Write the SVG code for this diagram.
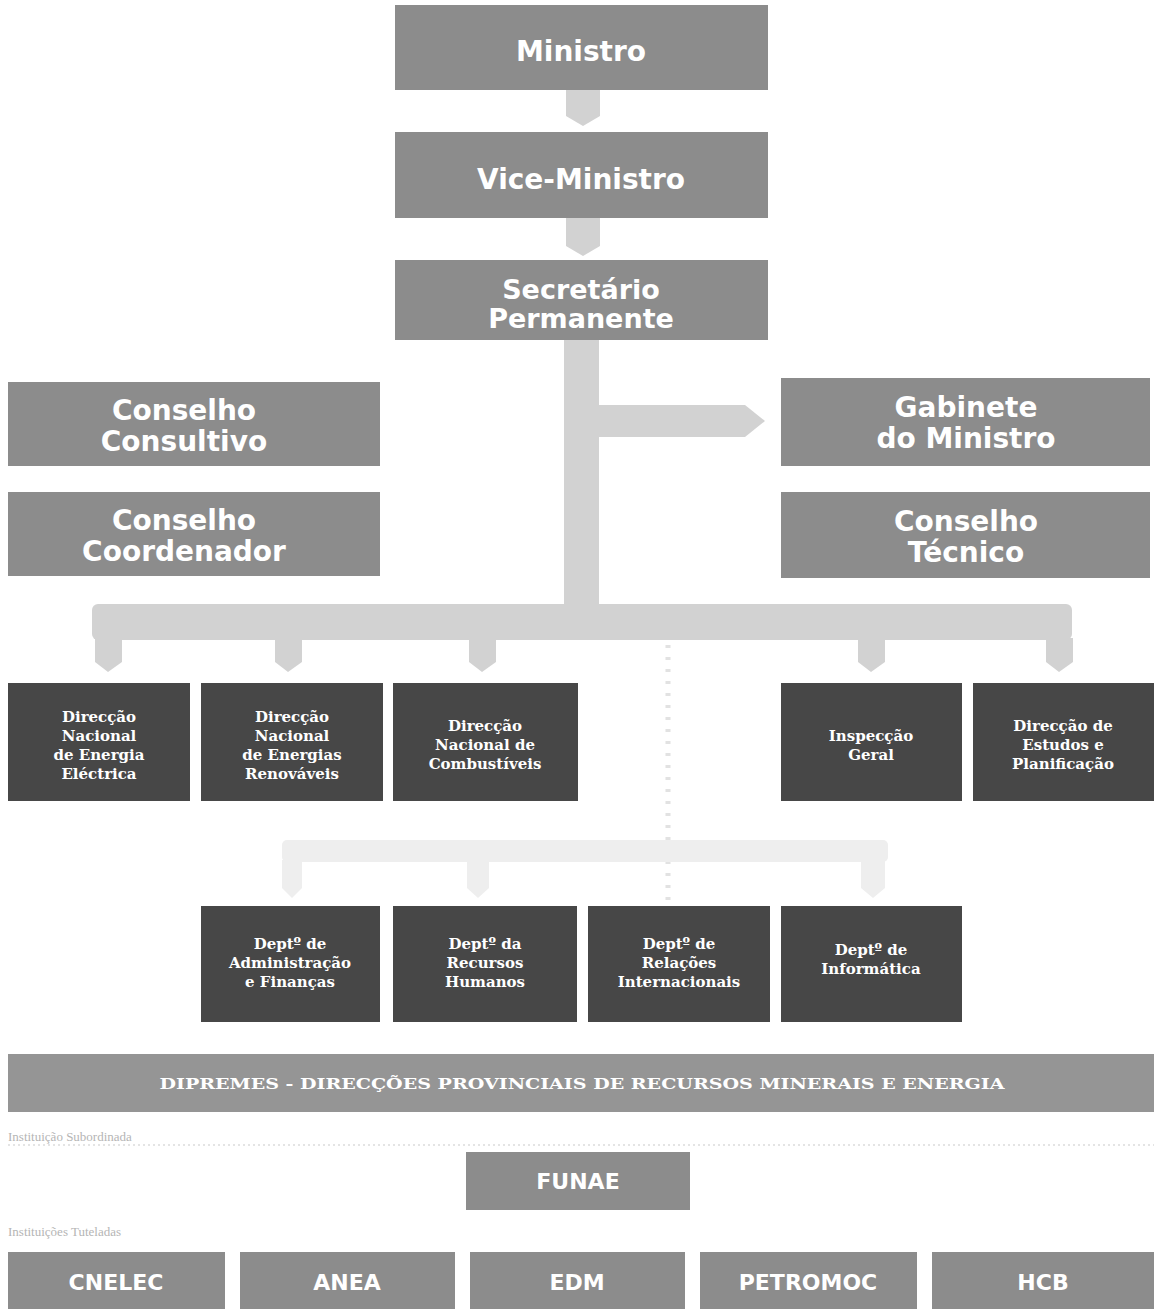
<svg xmlns="http://www.w3.org/2000/svg" width="1154" height="1309" viewBox="0 0 1154 1309">
<style>
.g{fill:#8c8c8c}
.d{fill:#474747}
.bar{fill:#959595}
.c{fill:#d2d2d2}
.cf{fill:#eeeeee}
.t{fill:#fff;font-family:"DejaVu Sans",sans-serif;font-weight:bold;text-anchor:middle}
.s{fill:#fff;font-family:"DejaVu Serif",serif;font-weight:bold;text-anchor:middle;font-size:15px}
.lab{fill:#b5b5b5;font-family:"Liberation Serif",serif;font-size:13px}
</style>
<rect width="1154" height="1309" fill="#fff"/>
<g id="connectors">
<polygon class="c" points="566,90 600,90 600,116 583,126 566,116"/>
<polygon class="c" points="566,218 600,218 600,246 583,256 566,246"/>
<rect class="c" x="564" y="340" width="35" height="270"/>
<polygon class="c" points="599,405 745,405 765,421 745,437 599,437"/>
<rect class="c" x="92" y="604" width="980" height="36" rx="6"/>
<polygon class="c" points="95,638 122,638 122,662 108,672 95,662"/>
<polygon class="c" points="275,638 302,638 302,662 288,672 275,662"/>
<polygon class="c" points="469,638 496,638 496,662 482,672 469,662"/>
<polygon class="c" points="858,638 885,638 885,662 871,672 858,662"/>
<polygon class="c" points="1046,638 1073,638 1073,662 1059,672 1046,662"/>
<line x1="668" y1="645" x2="668" y2="905" stroke="#e2e2e2" stroke-width="5" stroke-dasharray="3 9"/>
<rect class="cf" x="282" y="840" width="606" height="22" rx="5"/>
<polygon class="cf" points="282,860 302,860 302,888 292,898 282,888"/>
<polygon class="cf" points="467,860 489,860 489,888 478,898 467,888"/>
<polygon class="cf" points="861,860 885,860 885,888 873,898 861,888"/>
</g>
<g id="ministro"><rect class="g" x="395" y="5" width="373" height="85"/><text class="t" x="581" y="61" font-size="28">Ministro</text></g>
<g id="vice-ministro"><rect class="g" x="395" y="132" width="373" height="86"/><text class="t" x="581" y="189" font-size="28">Vice-Ministro</text></g>
<g id="secretario"><rect class="g" x="395" y="260" width="373" height="80"/><text class="t" x="581" y="299" font-size="27">Secretário</text><text class="t" x="581" y="328" font-size="27">Permanente</text></g>
<g id="conselho-consultivo"><rect class="g" x="8" y="382" width="372" height="84"/><text class="t" x="184" y="420" font-size="28">Conselho</text><text class="t" x="184" y="451" font-size="28">Consultivo</text></g>
<g id="conselho-coordenador"><rect class="g" x="8" y="492" width="372" height="84"/><text class="t" x="184" y="530" font-size="28">Conselho</text><text class="t" x="184" y="561" font-size="28">Coordenador</text></g>
<g id="gabinete"><rect class="g" x="781" y="378" width="369" height="88"/><text class="t" x="966" y="417" font-size="28">Gabinete</text><text class="t" x="966" y="448" font-size="28">do Ministro</text></g>
<g id="conselho-tecnico"><rect class="g" x="781" y="492" width="369" height="86"/><text class="t" x="966" y="531" font-size="28">Conselho</text><text class="t" x="966" y="562" font-size="28">Técnico</text></g>
<g id="dn-energia-electrica"><rect class="d" x="8" y="683" width="182" height="118"/><text class="s" x="99" y="722">Direcção</text><text class="s" x="99" y="741">Nacional</text><text class="s" x="99" y="760">de Energia</text><text class="s" x="99" y="779">Eléctrica</text></g>
<g id="dn-energias-renovaveis"><rect class="d" x="201" y="683" width="182" height="118"/><text class="s" x="292" y="722">Direcção</text><text class="s" x="292" y="741">Nacional</text><text class="s" x="292" y="760">de Energias</text><text class="s" x="292" y="779">Renováveis</text></g>
<g id="dn-combustiveis"><rect class="d" x="393" y="683" width="185" height="118"/><text class="s" x="485" y="731">Direcção</text><text class="s" x="485" y="750">Nacional de</text><text class="s" x="485" y="769">Combustíveis</text></g>
<g id="inspeccao-geral"><rect class="d" x="781" y="683" width="181" height="118"/><text class="s" x="871" y="741">Inspecção</text><text class="s" x="871" y="760">Geral</text></g>
<g id="direccao-estudos"><rect class="d" x="973" y="683" width="181" height="118"/><text class="s" x="1063" y="731">Direcção de</text><text class="s" x="1063" y="750">Estudos e</text><text class="s" x="1063" y="769">Planificação</text></g>
<g id="dept-admin"><rect class="d" x="201" y="906" width="179" height="116"/><text class="s" x="290" y="949">Deptº de</text><text class="s" x="290" y="968">Administração</text><text class="s" x="290" y="987">e Finanças</text></g>
<g id="dept-rh"><rect class="d" x="393" y="906" width="184" height="116"/><text class="s" x="485" y="949">Deptº da</text><text class="s" x="485" y="968">Recursos</text><text class="s" x="485" y="987">Humanos</text></g>
<g id="dept-ri"><rect class="d" x="588" y="906" width="182" height="116"/><text class="s" x="679" y="949">Deptº de</text><text class="s" x="679" y="968">Relações</text><text class="s" x="679" y="987">Internacionais</text></g>
<g id="dept-info"><rect class="d" x="781" y="906" width="181" height="116"/><text class="s" x="871" y="955">Deptº de</text><text class="s" x="871" y="974">Informática</text></g>
<g id="dipremes"><rect class="bar" x="8" y="1054" width="1146" height="58"/><text class="s" x="582" y="1089" font-size="18" textLength="845" lengthAdjust="spacingAndGlyphs">DIPREMES - DIRECÇÕES PROVINCIAIS DE RECURSOS MINERAIS E ENERGIA</text></g>
<text class="lab" x="8" y="1141">Instituição Subordinada</text>
<line x1="8" y1="1145" x2="1154" y2="1145" stroke="#e4e4e4" stroke-width="2" stroke-dasharray="2 3"/>
<g id="funae"><rect class="g" x="466" y="1152" width="224" height="58"/><text class="t" x="578" y="1189" font-size="22">FUNAE</text></g>
<text class="lab" x="8" y="1236">Instituições Tuteladas</text>
<g id="cnelec"><rect class="g" x="8" y="1252" width="217" height="57"/><text class="t" x="116" y="1290" font-size="22">CNELEC</text></g>
<g id="anea"><rect class="g" x="240" y="1252" width="215" height="57"/><text class="t" x="347" y="1290" font-size="22">ANEA</text></g>
<g id="edm"><rect class="g" x="470" y="1252" width="215" height="57"/><text class="t" x="577" y="1290" font-size="22">EDM</text></g>
<g id="petromoc"><rect class="g" x="700" y="1252" width="217" height="57"/><text class="t" x="808" y="1290" font-size="22">PETROMOC</text></g>
<g id="hcb"><rect class="g" x="932" y="1252" width="222" height="57"/><text class="t" x="1043" y="1290" font-size="22">HCB</text></g>
</svg>
